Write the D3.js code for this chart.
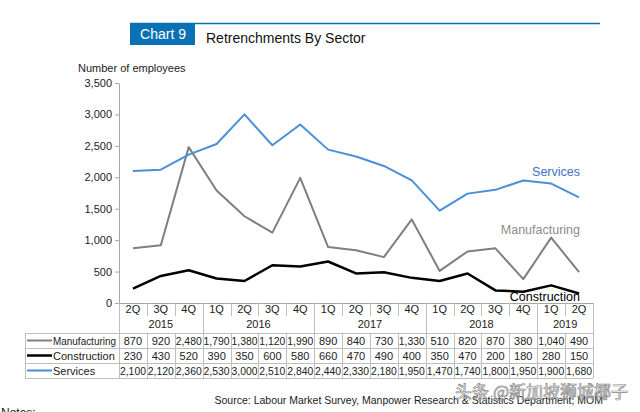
<!DOCTYPE html>
<html><head><meta charset="utf-8">
<script src="https://cdn.jsdelivr.net/npm/d3@7"></script>
<style>body{margin:0;background:#fff}svg{display:block;font-family:"Liberation Sans",Arial,sans-serif}</style>
</head><body><svg id="c" width="640" height="412"></svg>
<script>
const quarters = ["2Q","3Q","4Q","1Q","2Q","3Q","4Q","1Q","2Q","3Q","4Q","1Q","2Q","3Q","4Q","1Q","2Q"];
const years = [{y:"2015",n:3},{y:"2016",n:4},{y:"2017",n:4},{y:"2018",n:4},{y:"2019",n:2}];
const manufacturing = [870,920,2480,1790,1380,1120,1990,890,840,730,1330,510,820,870,380,1040,490];
const construction = [230,430,520,390,350,600,580,660,470,490,400,350,470,200,180,280,150];
const services = [2100,2120,2360,2530,3000,2510,2840,2440,2330,2180,1950,1470,1740,1800,1950,1900,1680];
const yTicks = [0,500,1000,1500,2000,2500,3000,3500];

const series = [
  {name:"Manufacturing", values:manufacturing, color:"#7f7f7f", w:2},
  {name:"Construction", values:construction, color:"#000000", w:2.5},
  {name:"Services", values:services, color:"#4a8fd8", w:2}
];

const svg = d3.select("#c");
const L=119, R=593, T=83, B=303;
const x = d3.scaleBand().domain(d3.range(quarters.length)).range([L,R]);
const y = d3.scaleLinear().domain([0,3500]).range([B,T]);
const fmt = d3.format(",");

// header
svg.append("line").attr("x1",130).attr("x2",600).attr("y1",23.5).attr("y2",23.5).attr("stroke","#0a71b4").attr("stroke-width",1.5);
svg.append("rect").attr("x",130).attr("y",23).attr("width",65).attr("height",22).attr("fill","#0a71b4");
svg.append("text").attr("x",163).attr("y",39).attr("text-anchor","middle").attr("fill","#fff").attr("font-size",14).text("Chart 9");
svg.append("text").attr("x",206).attr("y",43).attr("fill","#111").attr("font-size",14).text("Retrenchments By Sector");

svg.append("text").attr("x",78).attr("y",72).attr("font-size",11).attr("fill","#222").text("Number of employees");

// y axis
const ya = svg.append("g").attr("transform",`translate(${L},0)`).call(d3.axisLeft(y).tickValues(yTicks).tickFormat(fmt).tickSize(4).tickSizeOuter(0));
ya.select(".domain").attr("stroke","#a6a6a6");
ya.selectAll(".tick line").attr("stroke","#a6a6a6");
ya.selectAll(".tick text").attr("font-size",11).attr("fill","#222").attr("font-family","Liberation Sans, Arial, sans-serif").attr("x",-7);

// lines
const line = d3.line().x((d,i)=>x(i)+x.bandwidth()/2).y(d=>y(d));
series.forEach(s=>{
  svg.append("path").datum(s.values).attr("d",line).attr("fill","none").attr("stroke",s.color).attr("stroke-width",s.w).attr("stroke-linejoin","round");
});
svg.append("text").attr("x",580).attr("y",176).attr("text-anchor","end").attr("font-size",12.5).attr("fill","#4472c4").text("Services");
svg.append("text").attr("x",580).attr("y",234).attr("text-anchor","end").attr("font-size",12.5).attr("fill","#8c8c8c").text("Manufacturing");
svg.append("text").attr("x",580).attr("y",301).attr("text-anchor","end").attr("font-size",12.5).attr("fill","#000").text("Construction");

// table
const gc = "#bfbfbf";
const tb = svg.append("g").attr("font-size",11).attr("fill","#222");
const rowTop = 333, rh = 15, TL = 25;
tb.append("line").attr("x1",L).attr("x2",R).attr("y1",B+0.5).attr("y2",B+0.5).attr("stroke","#a6a6a6");
quarters.forEach((q,i)=>{
  tb.append("text").attr("x",x(i)+x.bandwidth()/2).attr("y",313).attr("text-anchor","middle").text(q);
});
let cum=0;
const yearBounds=[0];
years.forEach(yr=>{
  const x0=x(cum), x1=cum+yr.n<quarters.length? x(cum+yr.n):R;
  tb.append("text").attr("x",(x0+x1)/2).attr("y",328).attr("text-anchor","middle").text(yr.y);
  cum+=yr.n; yearBounds.push(cum);
});
quarters.forEach((q,i)=>{
  if(i===0) return;
  const xx=Math.round(x(i))+0.5;
  const full = yearBounds.includes(i);
  tb.append("line").attr("x1",xx).attr("x2",xx).attr("y1",B).attr("y2",full?rowTop:316).attr("stroke",gc);
});
tb.append("line").attr("x1",L+0.5).attr("x2",L+0.5).attr("y1",B).attr("y2",rowTop+3*rh).attr("stroke",gc);
tb.append("line").attr("x1",R+0.5).attr("x2",R+0.5).attr("y1",B).attr("y2",rowTop+3*rh).attr("stroke",gc);
for(let r=0;r<=3;r++){
  tb.append("line").attr("x1",TL).attr("x2",R).attr("y1",rowTop+r*rh+0.5).attr("y2",rowTop+r*rh+0.5).attr("stroke",gc);
}
tb.append("line").attr("x1",TL+0.5).attr("x2",TL+0.5).attr("y1",rowTop).attr("y2",rowTop+3*rh).attr("stroke",gc);
quarters.forEach((q,i)=>{
  if(i===0) return;
  const xx=Math.round(x(i))+0.5;
  tb.append("line").attr("x1",xx).attr("x2",xx).attr("y1",rowTop).attr("y2",rowTop+3*rh).attr("stroke",gc);
});
series.forEach((s,r)=>{
  const cy=rowTop+r*rh+rh/2;
  tb.append("line").attr("x1",27).attr("x2",52).attr("y1",cy).attr("y2",cy).attr("stroke",s.color).attr("stroke-width",s.w);
  const t = tb.append("text").attr("x",53).attr("y",cy+4).text(s.name);
  if(s.name==="Manufacturing") t.attr("textLength",63).attr("lengthAdjust","spacingAndGlyphs");
  s.values.forEach((v,i)=>{
    tb.append("text").attr("x",x(i)+x.bandwidth()/2).attr("y",cy+4).attr("text-anchor","middle").attr("textLength",String(fmt(v)).length>4?26:null).attr("lengthAdjust","spacingAndGlyphs").text(fmt(v));
  });
});

// source
svg.append("text").attr("x",603).attr("y",404).attr("text-anchor","end").attr("font-size",10.5).attr("fill","#222").text("Source: Labour Market Survey, Manpower Research & Statistics Department, MOM");
svg.append("text").attr("x",1).attr("y",417).attr("font-size",12).attr("fill","#222").text("Notes:");
// watermark
svg.append("text").attr("x",628).attr("y",398).attr("text-anchor","end").attr("font-size",17).attr("font-family","Noto Sans CJK SC").attr("fill","#fff").attr("fill-opacity",0.55).attr("stroke","#888").attr("stroke-width",0.7).text("头条 @新加坡狮城椰子");
</script></body></html>
